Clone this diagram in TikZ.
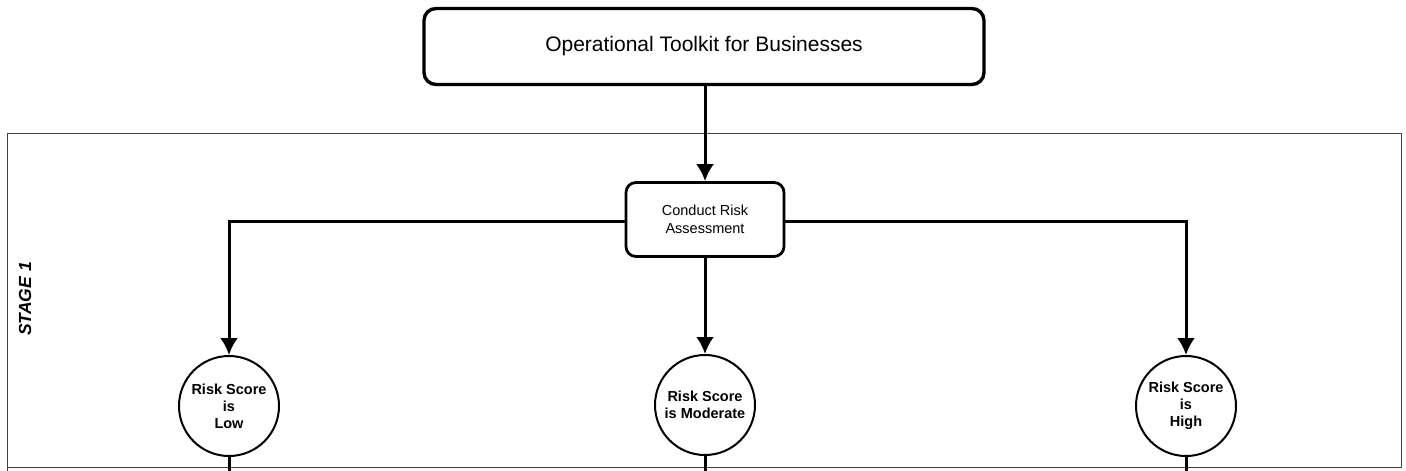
\documentclass[tikz,border=0pt]{standalone}
\usepackage{fontspec}
\setmainfont{Liberation Sans}
\usetikzlibrary{arrows.meta}
\begin{document}
\begin{tikzpicture}[x=1pt,y=-1pt,
  topbox/.style={draw, line width=3.4pt, rounded corners=12pt, minimum width=560pt, minimum height=76pt, inner sep=0pt, font=\fontsize{21}{25}\selectfont},
  taskbox/.style={draw, line width=2.8pt, rounded corners=10pt, minimum width=158pt, minimum height=74pt, inner sep=0pt, align=center, font=\fontsize{14.5}{18}\selectfont},
  scorecircle/.style={draw, circle, line width=2pt, minimum size=100pt, inner sep=0pt, align=center, font=\bfseries\fontsize{14.5}{17}\selectfont},
  conn/.style={line width=3pt},
  arr/.style={conn, -{Latex[length=17pt,width=18pt]}},
  stageframe/.style={draw=black!75, line width=0.9pt}
]
\useasboundingbox (0,0) rectangle (1406,471);
\draw[stageframe] (7,471) -- (7,133) -- (1401,133) -- (1401,467) -- (7,467);
\node[topbox] (top) at (704,46.5) {Operational Toolkit for Businesses};
\node[taskbox] (risk) at (705,219.5) {Conduct Risk\\Assessment};
\node[scorecircle] (low) at (229,406) {Risk Score\\is\\Low};
\node[scorecircle] (mod) at (705,405) {Risk Score\\is Moderate};
\node[scorecircle] (high) at (1186,406) {Risk Score\\is\\High};
\node[rotate=90, font=\bfseries\itshape\fontsize{17.5}{20}\selectfont] (stage) at (25,299) {STAGE 1};
\coordinate (lowend) at (229,471);
\coordinate (modend) at (705,471);
\coordinate (highend) at (1186,471);
\draw[arr] (top.south -| risk.north) -- (risk.north);
\draw[arr] (risk.west |- 0,221) -| (low.north);
\draw[arr] (risk.east |- 0,221) -| (high.north);
\draw[arr] (risk.south) -- (mod.north);
\draw[conn] (low.south) -- (lowend);
\draw[conn] (mod.south) -- (modend);
\draw[conn] (high.south) -- (highend);
\end{tikzpicture}
\end{document}
